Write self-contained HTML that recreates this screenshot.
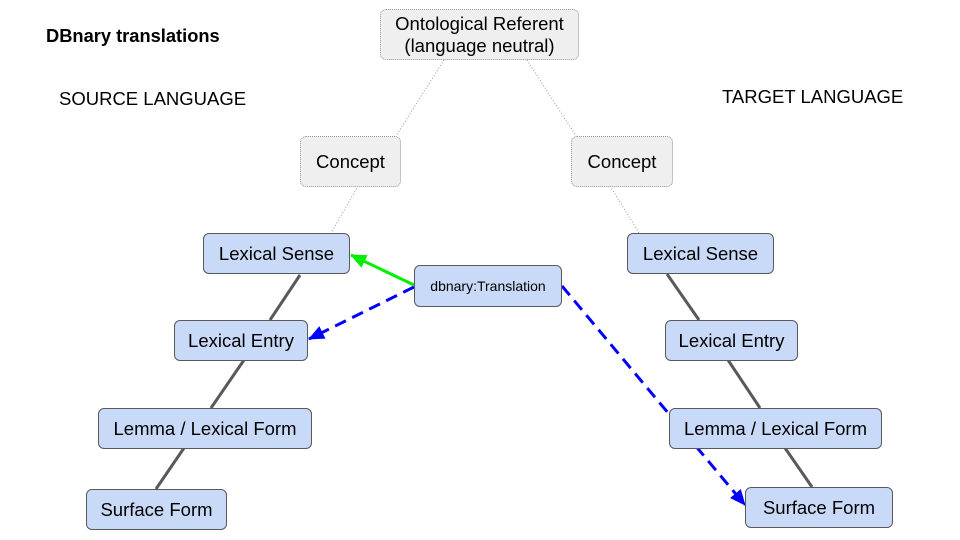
<!DOCTYPE html>
<html><head><style>
body{margin:0;width:960px;height:540px;background:#fff;font-family:"Liberation Sans",Arial,sans-serif;position:relative;overflow:hidden}
.n{position:absolute;box-sizing:border-box;background:#c9daf8;border:1px solid #595959;border-radius:6px;display:flex;align-items:center;justify-content:center;font-size:18.5px;color:#000;text-align:center;line-height:22px}
.g{background:#efefef;border:1px dotted #999}
.t{position:absolute;font-size:18px;color:#000;white-space:nowrap}
svg{position:absolute;left:0;top:0}
</style></head><body>
<svg width="960" height="540">
<defs>
<marker id="gr" markerWidth="16" markerHeight="14" refX="15" refY="7" orient="auto" markerUnits="userSpaceOnUse" viewBox="0 0 16 14"><path d="M0,0L16,7L0,14z" fill="#00ee00"/></marker>
<marker id="bl" markerWidth="16" markerHeight="14" refX="15" refY="7" orient="auto" markerUnits="userSpaceOnUse" viewBox="0 0 16 14"><path d="M0,0L16,7L0,14z" fill="#0000ff"/></marker>
</defs>
<g stroke="#999" stroke-width="1" stroke-dasharray="1,2" fill="none">
<line x1="444" y1="60" x2="396" y2="136"/><line x1="527" y1="60" x2="576" y2="136"/>
<line x1="358" y1="186" x2="331" y2="233"/><line x1="610" y1="186" x2="639" y2="233"/>
</g>
<g stroke="#595959" stroke-width="3">
<line x1="300" y1="275" x2="270" y2="320"/><line x1="244" y1="360" x2="211" y2="408"/><line x1="184" y1="448" x2="156" y2="489"/>
<line x1="667" y1="274" x2="699" y2="320"/><line x1="728" y1="360" x2="760" y2="408"/><line x1="785" y1="448" x2="812" y2="487"/>
</g>
<line x1="414" y1="285" x2="351" y2="255" stroke="#00ee00" stroke-width="3" marker-end="url(#gr)"/>
<line x1="414" y1="287" x2="309" y2="339" stroke="#0000ff" stroke-width="3" stroke-dasharray="12,7" marker-end="url(#bl)"/>
<line x1="562" y1="286" x2="745" y2="505" stroke="#0000ff" stroke-width="3" stroke-dasharray="12,7" marker-end="url(#bl)"/>
</svg>
<div class="t" style="left:46px;top:25px;font-weight:bold;font-size:18.3px">DBnary translations</div>
<div class="t" style="left:59px;top:88px;font-size:18.5px">SOURCE LANGUAGE</div>
<div class="t" style="left:722px;top:86px;font-size:18.5px">TARGET LANGUAGE</div>
<div class="n g" style="left:380px;top:9px;width:199px;height:51px">Ontological Referent<br>(language neutral)</div>
<div class="n g" style="left:300px;top:136px;width:101px;height:51px">Concept</div>
<div class="n g" style="left:571px;top:136px;width:102px;height:51px">Concept</div>
<div class="n" style="left:203px;top:233px;width:147px;height:41px">Lexical Sense</div>
<div class="n" style="left:627px;top:233px;width:147px;height:41px">Lexical Sense</div>
<div class="n" style="left:414px;top:265px;width:148px;height:42px;font-size:14px">dbnary:Translation</div>
<div class="n" style="left:174px;top:320px;width:134px;height:41px">Lexical Entry</div>
<div class="n" style="left:665px;top:320px;width:133px;height:41px">Lexical Entry</div>
<div class="n" style="left:98px;top:408px;width:214px;height:41px">Lemma / Lexical Form</div>
<div class="n" style="left:669px;top:408px;width:213px;height:41px">Lemma / Lexical Form</div>
<div class="n" style="left:86px;top:489px;width:141px;height:41px">Surface Form</div>
<div class="n" style="left:745px;top:487px;width:148px;height:41px">Surface Form</div>
</body></html>
